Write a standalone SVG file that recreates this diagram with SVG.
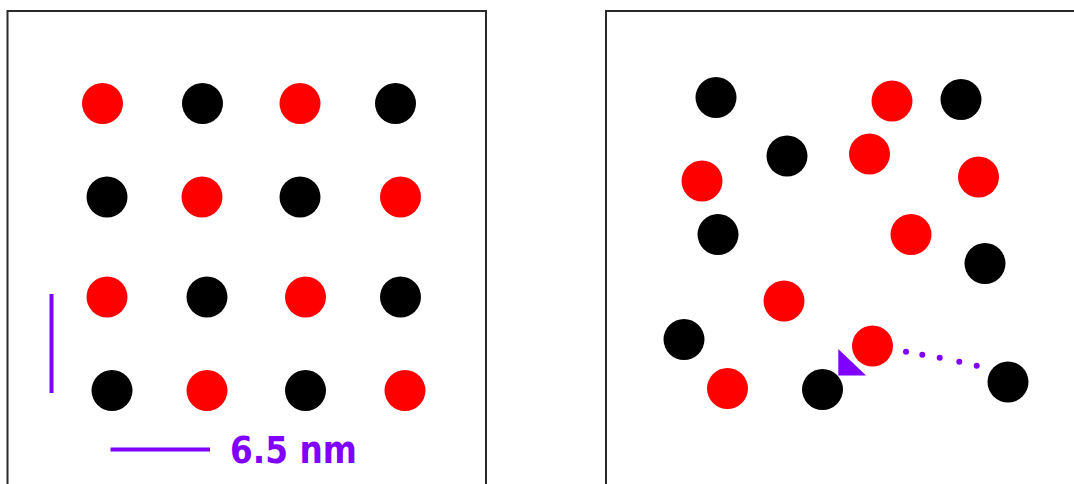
<svg xmlns="http://www.w3.org/2000/svg" width="1074" height="484" viewBox="0 0 1074 484">
<style>
.frame{fill:#fff;stroke:#2a2a2a;stroke-width:2}
.r{fill:#ff0000}
.b{fill:#000}
.bar{stroke:#7f00ff;stroke-width:4;fill:none}
.lbl{font-family:"DejaVu Sans",Verdana,sans-serif;font-weight:bold;font-size:37px;fill:#7f00ff}
.dot{fill:#7f00ff}
</style>
<rect width="1074" height="484" fill="#fff"/>
<g id="panel-left">
<rect class="frame" x="7.5" y="11" width="478.5" height="480"/>
<g id="lattice">
<circle class="r" cx="102.5" cy="103.5" r="20.5"/>
<circle class="b" cx="202.5" cy="103.5" r="20.5"/>
<circle class="r" cx="300" cy="103.5" r="20.5"/>
<circle class="b" cx="395.5" cy="103.5" r="20.5"/>
<circle class="b" cx="107" cy="197" r="20.5"/>
<circle class="r" cx="202" cy="197" r="20.5"/>
<circle class="b" cx="300" cy="197" r="20.5"/>
<circle class="r" cx="400.5" cy="197" r="20.5"/>
<circle class="r" cx="107" cy="297" r="20.5"/>
<circle class="b" cx="207" cy="297" r="20.5"/>
<circle class="r" cx="305.5" cy="297" r="20.5"/>
<circle class="b" cx="400.5" cy="297" r="20.5"/>
<circle class="b" cx="112" cy="390.5" r="20.5"/>
<circle class="r" cx="207" cy="390.5" r="20.5"/>
<circle class="b" cx="305.5" cy="390.5" r="20.5"/>
<circle class="r" cx="405" cy="390.5" r="20.5"/>
</g>
<g id="scale">
<line class="bar" x1="51.5" y1="294" x2="51.5" y2="393"/>
<line class="bar" x1="110.5" y1="449.5" x2="210" y2="449.5"/>
<text class="lbl" x="230" y="462.5" textLength="127" lengthAdjust="spacingAndGlyphs">6.5 nm</text>
</g>
</g>
<g id="panel-right">
<rect class="frame" x="606" y="11" width="500" height="480"/>
<g id="disordered">
<circle class="b" cx="716" cy="97.5" r="20.5"/>
<circle class="b" cx="787" cy="156" r="20.5"/>
<circle class="b" cx="961" cy="99.5" r="20.5"/>
<circle class="b" cx="718" cy="234.5" r="20.5"/>
<circle class="b" cx="985" cy="263.5" r="20.5"/>
<circle class="b" cx="684" cy="339.5" r="20.5"/>
<circle class="b" cx="822.5" cy="389.5" r="20.5"/>
<circle class="b" cx="1008" cy="382" r="20.5"/>
<circle class="r" cx="892" cy="101" r="20.5"/>
<circle class="r" cx="869.5" cy="154" r="20.5"/>
<circle class="r" cx="702" cy="181" r="20.5"/>
<circle class="r" cx="978.5" cy="177" r="20.5"/>
<circle class="r" cx="911" cy="234.5" r="20.5"/>
<circle class="r" cx="784" cy="301" r="20.5"/>
<circle class="r" cx="727.5" cy="388.5" r="20.5"/>
<circle class="r" cx="872.5" cy="346" r="20.5"/>
</g>
</g>
<g id="connectors">
<circle class="dot" cx="906" cy="351.7" r="3"/>
<circle class="dot" cx="922.3" cy="354.7" r="3"/>
<circle class="dot" cx="939.7" cy="357.7" r="3"/>
<circle class="dot" cx="959.3" cy="361.7" r="3"/>
<circle class="dot" cx="976.7" cy="365.7" r="3"/>
<polygon points="838.3,349 838.3,375.5 866,375.5" fill="#7f00ff"/>
</g>
</svg>
